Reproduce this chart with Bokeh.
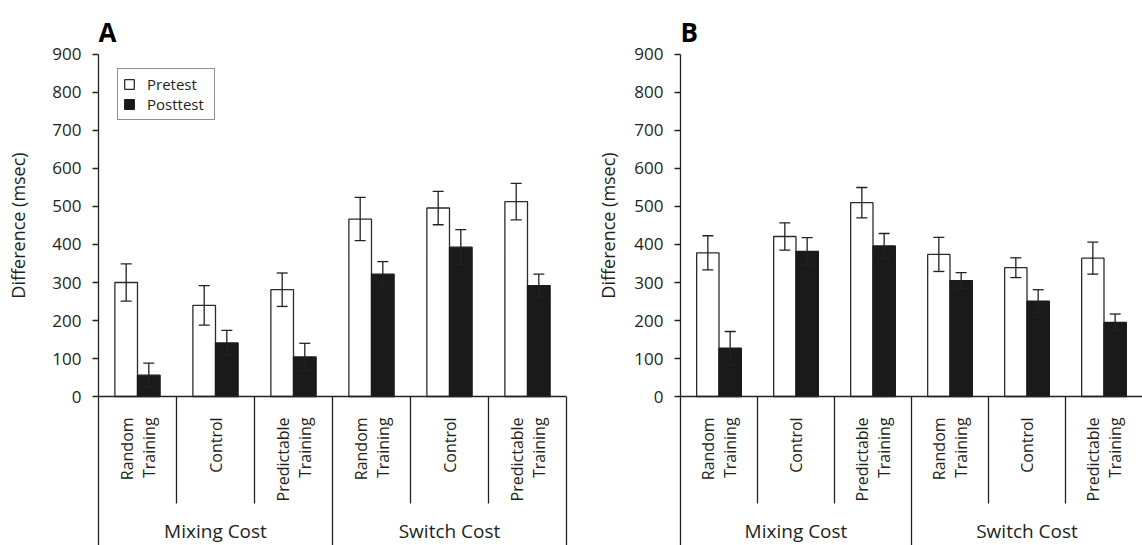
from math import pi
from bokeh.plotting import figure
from bokeh.layouts import row
from bokeh.models import (FactorRange, Range1d, ColumnDataSource, Whisker, TeeHead,
                          LinearAxis, FixedTicker, Legend, LegendItem, Span)
from bokeh.transform import dodge
from bokeh.core.properties import value
from bokeh.embed import file_html
from bokeh.resources import INLINE

# ---------------- data ----------------
groups = ["Mixing Cost", "Switch Cost"]
conditions = ["Random Training", "Control", "Predictable Training"]
condition_labels = ["Random\nTraining", "Control", "Predictable\nTraining"]
y_ticks = [0, 100, 200, 300, 400, 500, 600, 700, 800, 900]
y_title = "Difference (msec)"

pre_A = [300, 240, 281, 467, 496, 513]
pre_err_A = [49, 52, 44, 57, 44, 48]
post_A = [56, 141, 104, 322, 393, 292]
post_err_A = [32, 33, 36, 33, 46, 30]

pre_B = [378, 421, 510, 374, 339, 364]
pre_err_B = [45, 36, 40, 45, 26, 42]
post_B = [127, 382, 396, 305, 251, 195]
post_err_B = [44, 36, 33, 21, 30, 22]

# ---------------- style ----------------
FONT = "Open Sans"
TXT = "#231f20"
LINE = "#222222"
DARK = "#1a1a1a"
HEIGHT = 545
Y_TOP = 1042.1
Y_BOTTOM = -392.1
SUB_LABEL_TOP = -55.0
SUB_SEP_END = -281.6
GROUP_LABEL_Y = -354.0
LETTER_Y = 958.0
YTITLE_Y = 450
LAB_W = 30


def make_ytitle_fig():
    f = figure(width=LAB_W, height=HEIGHT, x_range=Range1d(0, LAB_W),
               y_range=Range1d(Y_BOTTOM, Y_TOP), output_backend="svg",
               toolbar_location=None, x_axis_location=None, y_axis_location=None,
               min_border=0, title=None)
    f.outline_line_color = None
    f.grid.visible = False
    f.text(x=[17], y=[YTITLE_Y], text=[y_title], angle=pi / 2,
           text_align="center", text_baseline="middle",
           text_font=value(FONT), text_font_size="18px", text_color=TXT)
    return f


def make_panel(letter, pre, pre_err, post, post_err, border_left, frame_w,
               border_right, show_legend, right_line):
    factors = [(g, c) for g in groups for c in conditions]
    x_range = FactorRange(*factors, group_padding=0, factor_padding=0,
                          subgroup_padding=0, range_padding=0)
    p = figure(x_range=x_range, y_range=Range1d(Y_BOTTOM, Y_TOP),
               width=border_left + frame_w + border_right, height=HEIGHT,
               output_backend="svg", toolbar_location=None,
               x_axis_location=None, title=None,
               min_border_left=border_left, min_border_right=border_right,
               min_border_top=0, min_border_bottom=0)
    p.outline_line_color = None
    p.grid.visible = False

    ax = p.yaxis[0]
    ax.bounds = (Y_BOTTOM, 900)
    ax.ticker = FixedTicker(ticks=y_ticks)
    ax.axis_line_color = LINE
    ax.axis_line_width = 1.3
    ax.major_tick_line_color = LINE
    ax.major_tick_line_width = 1.3
    ax.major_tick_out = 6
    ax.major_tick_in = 0
    ax.minor_tick_out = 0
    ax.minor_tick_in = 0
    ax.major_label_text_font = FONT
    ax.major_label_text_font_size = "17px"
    ax.major_label_text_color = TXT
    ax.major_label_standoff = 11

    if right_line:
        rax = LinearAxis(bounds=(Y_BOTTOM, 0), ticker=FixedTicker(ticks=[]),
                         major_label_text_font_size="0px", major_tick_out=0,
                         major_tick_in=0, minor_tick_out=0, minor_tick_in=0,
                         axis_line_color=LINE, axis_line_width=1.3)
        p.add_layout(rax, "right")

    src = ColumnDataSource(dict(
        cat=factors,
        pre=pre, pre_lo=[v - e for v, e in zip(pre, pre_err)],
        pre_hi=[v + e for v, e in zip(pre, pre_err)],
        post=post, post_lo=[v - e for v, e in zip(post, post_err)],
        post_hi=[v + e for v, e in zip(post, post_err)],
    ))

    r_pre = p.vbar(x=dodge("cat", -0.145, range=p.x_range), top="pre", bottom=0,
                   width=0.29, source=src, fill_color="white",
                   line_color="#2b2b2b", line_width=1.3)
    r_post = p.vbar(x=dodge("cat", 0.145, range=p.x_range), top="post", bottom=0,
                    width=0.29, source=src, fill_color=DARK,
                    line_color=DARK, line_width=1.3)

    for off, lo, hi in [(-0.145, "pre_lo", "pre_hi"), (0.145, "post_lo", "post_hi")]:
        w = Whisker(source=src, base=dodge("cat", off, range=p.x_range),
                    lower=lo, upper=hi, dimension="height",
                    line_color=LINE, line_width=1.3, level="annotation",
                    upper_head=TeeHead(size=11, line_color=LINE, line_width=1.3),
                    lower_head=TeeHead(size=11, line_color=LINE, line_width=1.3))
        p.add_layout(w)

    # baseline
    p.add_layout(Span(location=0, dimension="width", line_color=LINE,
                      line_width=1.3))

    # category separators
    sep_cats = factors[1:]
    sep_end = [Y_BOTTOM if c[1] == conditions[0] else SUB_SEP_END for c in sep_cats]
    sep_src = ColumnDataSource(dict(cat=sep_cats, y1=sep_end))
    p.segment(x0=dodge("cat", -0.5, range=p.x_range), y0=0,
              x1=dodge("cat", -0.5, range=p.x_range), y1="y1",
              source=sep_src, line_color=LINE, line_width=1.3)

    # condition labels (rotated)
    lab_src = ColumnDataSource(dict(
        cat=factors, label=[condition_labels[i % 3] for i in range(len(factors))]))
    p.text(x="cat", y=SUB_LABEL_TOP, text="label", source=lab_src, angle=pi / 2,
           text_align="right", text_baseline="middle",
           text_font=value(FONT), text_font_size="16px", text_color=TXT,
           text_line_height=1.0)

    # group labels
    grp_src = ColumnDataSource(dict(grp=groups))
    p.text(x="grp", y=GROUP_LABEL_Y, text="grp", source=grp_src,
           text_align="center", text_baseline="alphabetic",
           text_font=value(FONT), text_font_size="19px", text_color=TXT)

    # panel letter
    p.text(x=[0], y=[LETTER_Y], text=[letter], text_align="left",
           text_baseline="alphabetic", text_font=value(FONT),
           text_font_size="26px", text_font_style="bold", text_color="#000000")

    if show_legend:
        legend = Legend(items=[LegendItem(label="Pretest", renderers=[r_pre]),
                               LegendItem(label="Posttest", renderers=[r_post])],
                        location=(19, 425), margin=0, padding=5, spacing=0,
                        glyph_width=12, glyph_height=12, label_standoff=12,
                        label_height=18, label_width=62,
                        label_text_font=FONT, label_text_font_size="15px",
                        label_text_color=TXT, border_line_color=TXT,
                        border_line_width=1, background_fill_color="white",
                        background_fill_alpha=1)
        p.add_layout(legend)
    return p


tA = make_ytitle_fig()
pA = make_panel("A", pre_A, pre_err_A, post_A, post_err_A, 98 - LAB_W, 468, 24, True, True)
tB = make_ytitle_fig()
pB = make_panel("B", pre_B, pre_err_B, post_B, post_err_B, 90 - LAB_W, 462, 0, False, False)

layout = row(tA, pA, tB, pB)
open("out.html", "w").write(file_html(layout, INLINE))
